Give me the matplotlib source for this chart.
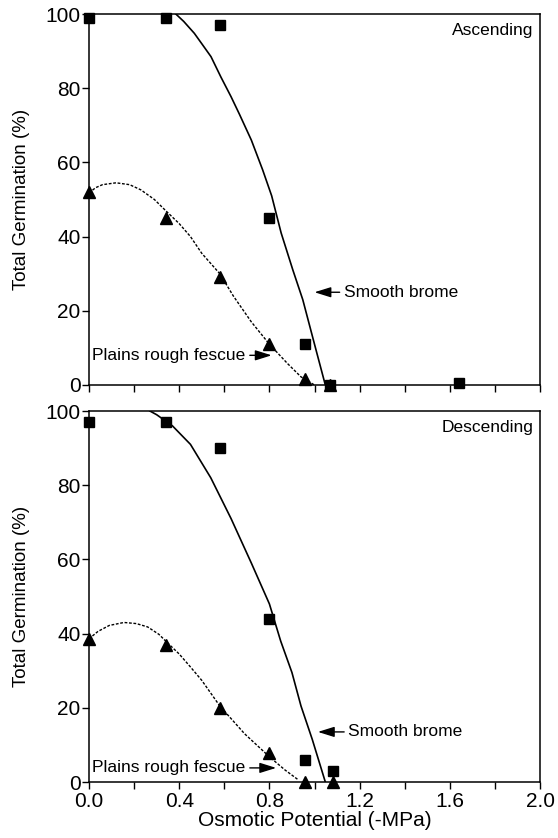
import numpy as np
import matplotlib.pyplot as plt
from matplotlib.ticker import MultipleLocator

plt.rcParams['font.family'] = ['Liberation Sans', 'DejaVu Sans']

# Gemessene Werte (Ascending)
asc_psi = [0.0, 0.34, 0.58, 0.80, 0.96, 1.07, 1.64]
asc_brome = [99, 99, 97, 45, 11, 0, 0.5]
asc_fescue_psi = [0.0, 0.34, 0.58, 0.80, 0.96, 1.07]
asc_fescue = [52, 45, 29, 11, 1.5, 0]

# Gemessene Werte (Descending)
desc_psi = [0.0, 0.34, 0.58, 0.80, 0.96, 1.08]
desc_brome = [97, 97, 90, 44, 6, 3]
desc_fescue = [38.5, 37, 20, 7.8, 0, 0]

# Angepasste Kurven
asc_brome_fit_x = [0.385, 0.42, 0.467, 0.50, 0.541, 0.585, 0.63, 0.667, 0.72, 0.77,
                   0.81, 0.852, 0.904, 0.948, 1.0, 1.048]
asc_brome_fit_y = [100, 98, 94.8, 92, 88.5, 83, 77.7, 73, 66, 58,
                   51, 41, 31, 23, 11, 0]
asc_fescue_fit_x = [0.0, 0.03, 0.06, 0.12, 0.18, 0.23, 0.29, 0.34, 0.40, 0.45, 0.50,
                    0.58, 0.64, 0.72, 0.80, 0.88, 0.94, 1.0]
asc_fescue_fit_y = [51.8, 53.2, 54, 54.5, 54, 52.6, 50, 47, 43.5, 40, 35.5,
                    30, 24, 17, 11, 5.8, 2.2, 0]

desc_brome_fit_x = [0.27, 0.30, 0.37, 0.45, 0.54, 0.63, 0.72, 0.80, 0.85, 0.90,
                    0.94, 0.99, 1.048]
desc_brome_fit_y = [100, 99, 96, 91, 82, 71, 59, 48, 38, 29.5,
                    20.5, 11.5, 0]
desc_fescue_fit_x = [0.0, 0.04, 0.09, 0.155, 0.21, 0.26, 0.31, 0.35, 0.40, 0.45,
                     0.50, 0.58, 0.69, 0.80, 0.87, 0.93]
desc_fescue_fit_y = [38.6, 40.6, 42.2, 43, 42.7, 41.8, 39.8, 37.4, 34.5, 31,
                     27.4, 20.5, 13, 6.8, 3.2, 0.5]

W, H = 558, 838
fig = plt.figure(figsize=(W / 100, H / 100), dpi=100)
ax1 = fig.add_axes([89 / W, 1 - 385 / H, 451 / W, 371 / H])
ax2 = fig.add_axes([89 / W, 1 - 782 / H, 451 / W, 371 / H])


def draw_panel(ax, bx, by, fx, fy, bfx, bfy, ffx, ffy, label,
               brome_arrow, fescue_arrow, show_xlabels):
    ax.plot(bfx, bfy, color='black', lw=1.2)
    ax.plot(ffx, ffy, color='black', lw=1.0, linestyle=(0, (2, 1.2)))
    ax.plot(fx, fy, '^', color='black', ms=8, clip_on=False, zorder=3)
    ax.plot(bx, by, 's', color='black', ms=6.5, clip_on=False, zorder=4)

    ax.set_xlim(0, 2.0)
    ax.set_ylim(0, 100)
    ax.xaxis.set_major_locator(MultipleLocator(0.4))
    ax.xaxis.set_minor_locator(MultipleLocator(0.2))
    ax.yaxis.set_major_locator(MultipleLocator(20))
    ax.tick_params(axis='both', which='both', direction='out', labelsize=15,
                   width=1.0, pad=1)
    ax.tick_params(axis='both', which='major', length=5)
    ax.tick_params(axis='x', which='minor', length=5)
    ax.tick_params(axis='x', pad=2)
    for s in ax.spines.values():
        s.set_linewidth(1.1)
    if show_xlabels:
        ax.xaxis.set_major_formatter(plt.FormatStrFormatter('%.1f'))
        ax.set_xlabel('Osmotic Potential (-MPa)', fontsize=15, labelpad=0)
    else:
        ax.tick_params(axis='x', labelbottom=False)
    ax.set_ylabel('Total Germination (%)', fontsize=13.5, labelpad=11)

    ax.text(0.985, 0.975, label, transform=ax.transAxes, ha='right', va='top',
            fontsize=12.5)

    ax.annotate('Smooth brome', xy=brome_arrow[0], xytext=brome_arrow[1],
                fontsize=12.5, va='center', ha='left',
                arrowprops=dict(arrowstyle='-|>,head_length=0.8,head_width=0.25',
                                color='black', lw=1.0, shrinkA=1, shrinkB=0))
    ax.annotate('Plains rough fescue', xy=fescue_arrow[0], xytext=fescue_arrow[1],
                fontsize=12.5, va='center', ha='left',
                arrowprops=dict(arrowstyle='-|>,head_length=0.8,head_width=0.25',
                                color='black', lw=1.0, shrinkA=1, shrinkB=0))


draw_panel(ax1, asc_psi, asc_brome, asc_fescue_psi, asc_fescue,
           asc_brome_fit_x, asc_brome_fit_y, asc_fescue_fit_x, asc_fescue_fit_y,
           'Ascending', ((1.0, 25), (1.13, 25)), ((0.81, 8), (0.015, 8)), False)
draw_panel(ax2, desc_psi, desc_brome, desc_psi, desc_fescue,
           desc_brome_fit_x, desc_brome_fit_y, desc_fescue_fit_x, desc_fescue_fit_y,
           'Descending', ((1.015, 13.5), (1.15, 13.5)), ((0.83, 3.8), (0.015, 3.8)), True)

fig.savefig('out.png', dpi=100)
